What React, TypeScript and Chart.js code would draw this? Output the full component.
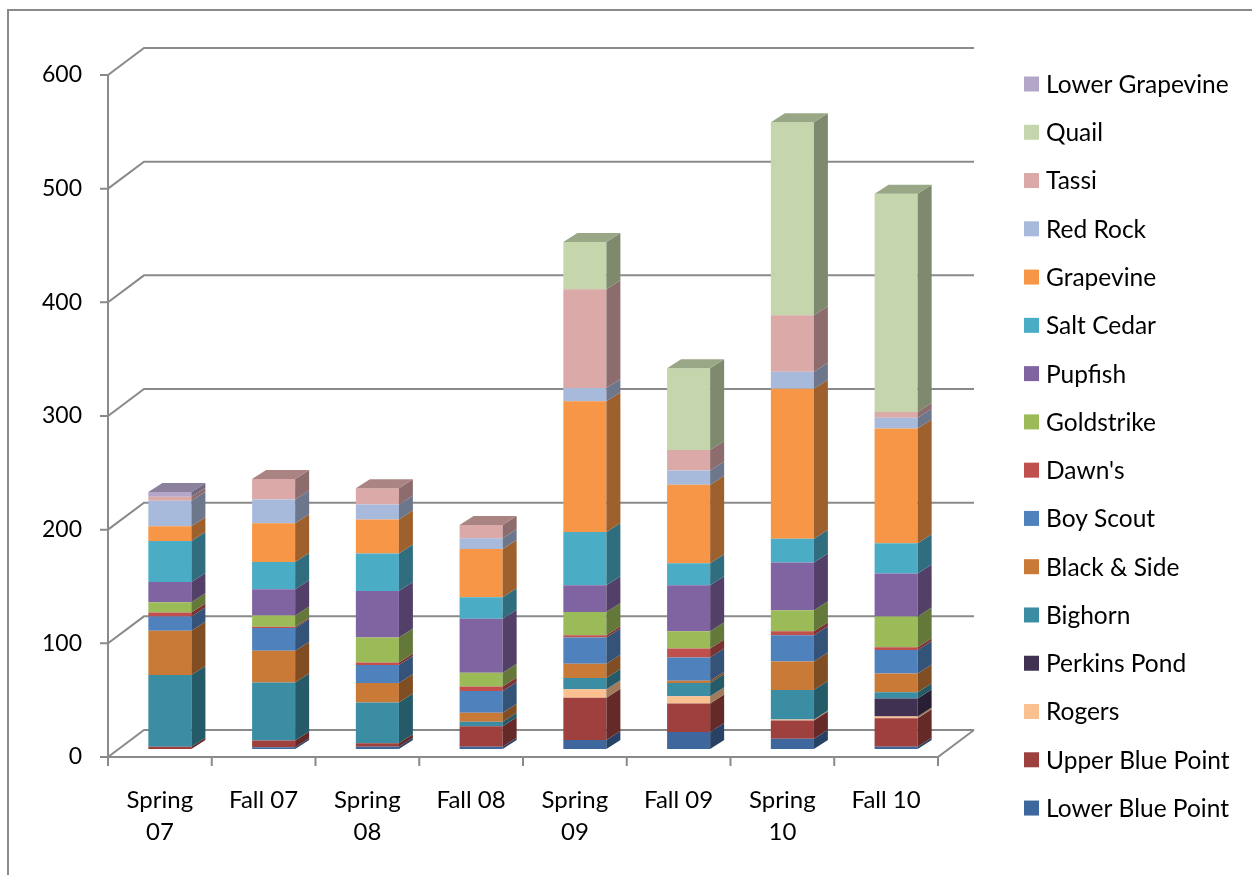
import React, { useEffect, useRef } from 'react';
import { Chart, registerables } from 'chart.js';

Chart.register(...registerables);

const categories: (string | string[])[] = [
  ['Spring', '07'], 'Fall 07', ['Spring', '08'], 'Fall 08',
  ['Spring', '09'], 'Fall 09', ['Spring', '10'], 'Fall 10',
];

const yTicks = [0, 100, 200, 300, 400, 500, 600];

// stacked from bottom to top
const lowerBluePoint = [0, 1.5, 2, 2, 8, 15, 9, 2];
const upperBluePoint = [2, 6, 3, 18, 37, 25, 16, 25];
const rogers = [0, 0, 0, 0, 7.5, 6.5, 1, 1.5];
const perkinsPond = [0, 0, 0, 0, 0, 0, 0, 16];
const bighorn = [63, 51, 36, 4, 10, 11.5, 26, 5.5];
const blackAndSide = [39, 28, 17, 8, 12.5, 2, 25, 16.5];
const boyScout = [12.5, 20, 16, 19, 23, 20.5, 23, 20.5];
const dawns = [3.5, 1, 2, 4, 2, 8, 3.5, 2.5];
const goldstrike = [9, 10, 22, 12, 20.5, 15, 18.5, 27];
const pupfish = [18, 23, 41, 47.5, 23.5, 40.5, 42, 38];
const saltCedar = [36, 24, 33, 19, 47, 19.5, 21, 26.5];
const grapevine = [13, 34, 30, 42.5, 115, 69, 132, 101];
const redRock = [22.5, 21, 13, 9.5, 11.5, 12.5, 15, 9.5];
const tassi = [3.5, 18, 14.5, 11.5, 87, 18, 49.5, 5];
const quail = [0, 0, 0, 0, 41.5, 72, 170, 192];
const lowerGrapevine = [4, 0, 0, 0, 0, 0, 0, 0];

const seriesNames = [
  'Lower Blue Point', 'Upper Blue Point', 'Rogers', 'Perkins Pond', 'Bighorn',
  'Black & Side', 'Boy Scout', "Dawn's", 'Goldstrike', 'Pupfish', 'Salt Cedar',
  'Grapevine', 'Red Rock', 'Tassi', 'Quail', 'Lower Grapevine',
];
const seriesValues = [
  lowerBluePoint, upperBluePoint, rogers, perkinsPond, bighorn, blackAndSide,
  boyScout, dawns, goldstrike, pupfish, saltCedar, grapevine, redRock, tassi,
  quail, lowerGrapevine,
];
const seriesColors = [
  '#3E679E', '#9E413E', '#FAC090', '#403152', '#3A8DA3', '#C97A36',
  '#4F81BD', '#C0504D', '#9BBB59', '#8064A2', '#4BACC6', '#F79646',
  '#A8BADB', '#DAA9A8', '#C6D6AC', '#B3A6C9',
];

const FONT_FAMILY = 'Lato, "Open Sans", sans-serif';
const LINE = '#8a8a8a';

// 3D geometry (pixels)
const BAR_DX = 14;
const BAR_DY = 9;
const FRONT_DX = -10;
const FRONT_DY = 8;
const WALL_DX = 36;
const WALL_DY = 27;

function shade(hex: string, f: number): string {
  const n = parseInt(hex.slice(1), 16);
  const r = Math.round(((n >> 16) & 255) * f);
  const g = Math.round(((n >> 8) & 255) * f);
  const b = Math.round((n & 255) * f);
  return `rgb(${r},${g},${b})`;
}

const threeD = {
  id: 'threeD',
  beforeDatasetsDraw(chart: any) {
    const ctx = chart.ctx as CanvasRenderingContext2D;
    const y = chart.scales.y;
    const area = chart.chartArea;
    const fl = area.left + FRONT_DX;
    const fr = area.right + FRONT_DX;
    const y0 = y.getPixelForValue(0) + FRONT_DY;
    const yTop = y.getPixelForValue(600) + FRONT_DY;
    ctx.save();
    ctx.strokeStyle = LINE;
    ctx.lineWidth = 2;
    ctx.beginPath();
    ctx.moveTo(8, 900);
    ctx.lineTo(8, 10);
    ctx.lineTo(1300, 10);
    ctx.stroke();

    for (const v of yTicks) {
      const py = y.getPixelForValue(v) + FRONT_DY;
      ctx.beginPath();
      ctx.moveTo(fl - 8, py);
      ctx.lineTo(fl, py);
      ctx.lineTo(fl + WALL_DX, py - WALL_DY);
      ctx.lineTo(fr + WALL_DX, py - WALL_DY);
      ctx.stroke();
    }
    ctx.beginPath();
    ctx.moveTo(fl, yTop);
    ctx.lineTo(fl, y0);
    ctx.stroke();
    ctx.beginPath();
    ctx.moveTo(fl, y0);
    ctx.lineTo(fr, y0);
    ctx.lineTo(fr + WALL_DX, y0 - WALL_DY);
    ctx.stroke();
    const n = categories.length;
    const cw = (fr - fl) / n;
    for (let i = 0; i <= n; i++) {
      const x = fl + i * cw;
      ctx.beginPath();
      ctx.moveTo(x, y0);
      ctx.lineTo(x, y0 + 9);
      ctx.stroke();
    }
    ctx.restore();
  },
  afterDatasetsDraw(chart: any) {
    const ctx = chart.ctx as CanvasRenderingContext2D;
    const metas = chart.data.datasets.map((_: any, d: number) => chart.getDatasetMeta(d));
    ctx.save();
    for (let i = 0; i < categories.length; i++) {
      let topD = -1;
      for (let d = 0; d < metas.length; d++) {
        const v = chart.data.datasets[d].data[i];
        if (!(v > 0)) continue;
        const el = metas[d].data[i];
        const p = el.getProps(['x', 'y', 'base', 'width'], true);
        const right = p.x + p.width / 2;
        const t = Math.min(p.y, p.base);
        const b = Math.max(p.y, p.base);
        ctx.fillStyle = shade(seriesColors[d], 0.64);
        ctx.beginPath();
        ctx.moveTo(right, t);
        ctx.lineTo(right + BAR_DX, t - BAR_DY);
        ctx.lineTo(right + BAR_DX, b - BAR_DY);
        ctx.lineTo(right, b);
        ctx.closePath();
        ctx.fill();
        topD = d;
      }
      if (topD >= 0) {
        const el = metas[topD].data[i];
        const p = el.getProps(['x', 'y', 'base', 'width'], true);
        const left = p.x - p.width / 2;
        const right = p.x + p.width / 2;
        const t = Math.min(p.y, p.base);
        ctx.fillStyle = shade(seriesColors[topD], 0.78);
        ctx.beginPath();
        ctx.moveTo(left, t);
        ctx.lineTo(left + BAR_DX, t - BAR_DY);
        ctx.lineTo(right + BAR_DX, t - BAR_DY);
        ctx.lineTo(right, t);
        ctx.closePath();
        ctx.fill();
      }
    }
    ctx.restore();
  },
  afterDraw(chart: any) {
    const ctx = chart.ctx as CanvasRenderingContext2D;
    ctx.save();
    ctx.font = `24.5px ${FONT_FAMILY}`;
    ctx.textBaseline = 'middle';
    ctx.textAlign = 'left';
    const ds = chart.data.datasets;
    const startY = 84;
    const step = 48.27;
    for (let k = 0; k < ds.length; k++) {
      const d = ds.length - 1 - k;
      const cy = startY + k * step;
      ctx.fillStyle = seriesColors[d];
      ctx.fillRect(1024, cy - 7.5, 15, 15);
      ctx.fillStyle = '#000';
      ctx.fillText(ds[d].label, 1046, cy + 1);
    }
    ctx.restore();
  },
};

export default function App() {
  const ref = useRef<HTMLCanvasElement | null>(null);
  useEffect(() => {
    if (!ref.current) return;
    const xFont = { family: FONT_FAMILY, size: 24, lineHeight: 1.3 };
    const yFont = { family: FONT_FAMILY, size: 23, lineHeight: 1.2 };
    const chart = new Chart(ref.current, {
      type: 'bar',
      data: {
        labels: categories,
        datasets: seriesNames.map((name, d) => ({
          label: name,
          data: seriesValues[d],
          backgroundColor: seriesColors[d],
          borderWidth: 0,
          categoryPercentage: 1,
          barPercentage: 0.415,
        })),
      },
      options: {
        responsive: false,
        animation: false,
        layout: { padding: { left: 10, top: 67, right: 304, bottom: 0 } },
        plugins: { legend: { display: false }, tooltip: { enabled: false } },
        scales: {
          x: {
            stacked: true,
            grid: { display: false, drawTicks: false },
            border: { display: false },
            ticks: {
              font: xFont,
              color: '#000',
              padding: 36,
              labelOffset: FRONT_DX,
              maxRotation: 0,
              autoSkip: false,
            },
            afterFit: (s: any) => { s.height = 126; },
          },
          y: {
            stacked: true,
            min: 0,
            max: 600,
            grid: { display: false, drawTicks: false },
            border: { display: false },
            ticks: {
              font: yFont,
              color: '#000',
              stepSize: 100,
              padding: 36,
              labelOffset: FRONT_DY,
            },
            afterFit: (s: any) => { s.width = 108; },
          },
        },
      },
      plugins: [threeD],
    } as any);
    return () => chart.destroy();
  }, []);
  return (
    <div style={{ position: 'absolute', left: 0, top: 0, width: 1252, height: 875, background: '#fff' }}>
      <canvas ref={ref} width={1252} height={875} style={{ display: 'block' }} />
    </div>
  );
}
